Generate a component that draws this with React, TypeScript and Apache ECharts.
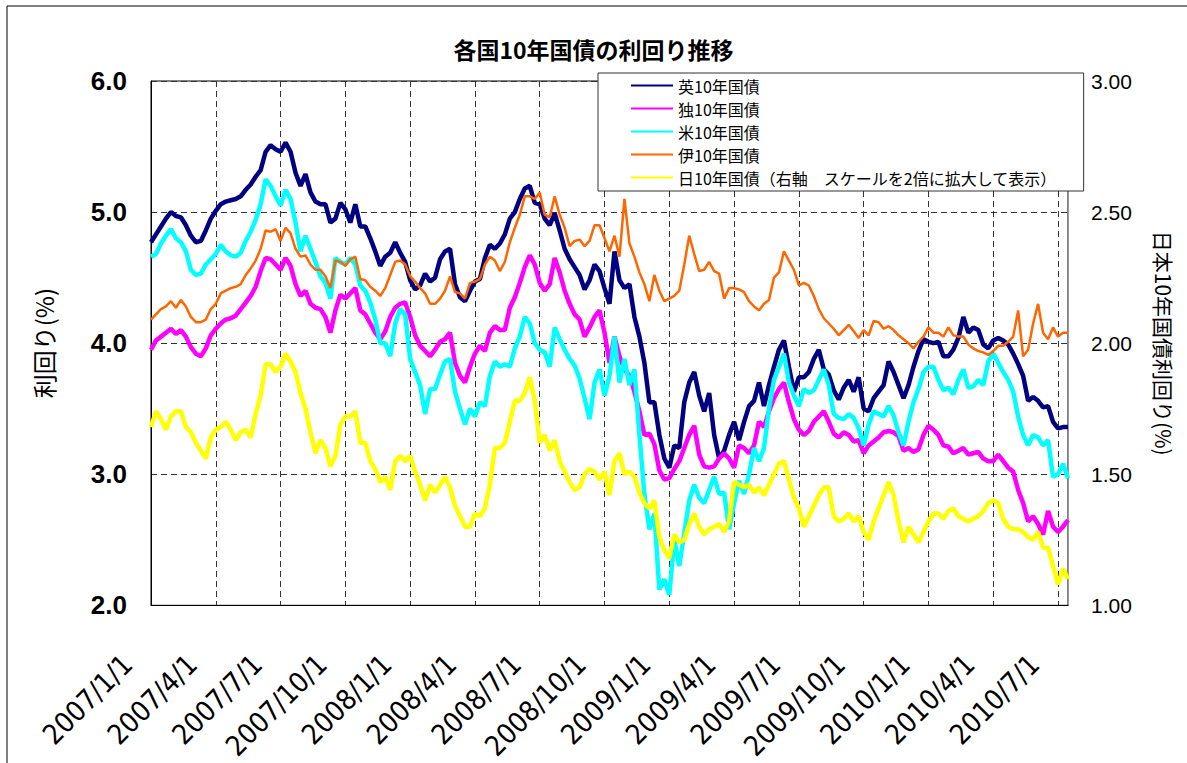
import React, { useEffect, useRef } from "react";
import * as echarts from "echarts";

// Quarter starts used as tick labels (each quarter holds 13 weekly samples)
const quarterLabels = [
  "2007/1/1", "2007/4/1", "2007/7/1", "2007/10/1",
  "2008/1/1", "2008/4/1", "2008/7/1", "2008/10/1",
  "2009/1/1", "2009/4/1", "2009/7/1", "2009/10/1",
  "2010/1/1", "2010/4/1", "2010/7/1",
];
const WEEKS_PER_QUARTER = 13;

const seriesNames = [
  "英10年国債",
  "独10年国債",
  "米10年国債",
  "伊10年国債",
  "日10年国債（右軸　スケールを2倍に拡大して表示）",
];

const ukYield = [
  4.77, 4.83, 4.89, 4.95, 5.00, 4.97, 4.96, 4.90, 4.82, 4.77,
  4.78, 4.86, 4.95, 5.01, 5.06, 5.08, 5.09, 5.10, 5.12, 5.17,
  5.21, 5.27, 5.32, 5.46, 5.51, 5.48, 5.46, 5.53, 5.46, 5.30,
  5.20, 5.29, 5.15, 5.08, 5.06, 5.06, 4.92, 4.95, 5.07, 5.02,
  4.92, 5.06, 4.89, 4.89, 4.80, 4.70, 4.59, 4.66, 4.69, 4.77,
  4.69, 4.62, 4.48, 4.41, 4.44, 4.53, 4.47, 4.50, 4.64, 4.70,
  4.72, 4.45, 4.35, 4.32, 4.40, 4.47, 4.49, 4.65, 4.75, 4.72,
  4.76, 4.83, 4.95, 5.00, 5.10, 5.18, 5.20, 5.07, 5.06, 4.95,
  4.90, 4.99, 4.86, 4.72, 4.64, 4.58, 4.52, 4.41, 4.48, 4.60,
  4.55, 4.42, 4.30, 4.70, 4.48, 4.42, 4.45, 4.20, 4.05, 3.85,
  3.55, 3.55, 3.30, 3.12, 3.05, 3.22, 3.20, 3.55, 3.70, 3.78,
  3.60, 3.48, 3.62, 3.30, 3.12, 3.18, 3.30, 3.40, 3.26, 3.40,
  3.52, 3.56, 3.70, 3.52, 3.68, 3.82, 3.95, 4.02, 3.82, 3.63,
  3.74, 3.74, 3.78, 3.88, 3.95, 3.80, 3.76, 3.64, 3.57, 3.66,
  3.72, 3.63, 3.74, 3.50, 3.48, 3.58, 3.63, 3.68, 3.86, 3.78,
  3.68, 3.58, 3.68, 3.82, 3.94, 4.03, 4.01, 4.00, 4.01, 3.90,
  3.90, 3.95, 4.04, 4.20, 4.08, 4.12, 4.10, 3.99, 3.96, 4.02,
  4.04, 4.02, 3.99, 3.92, 3.84, 3.75, 3.56, 3.59, 3.56, 3.51,
  3.52, 3.40, 3.35, 3.36, 3.36,
];

const deYield = [
  3.95, 4.02, 4.05, 4.08, 4.11, 4.07, 4.10, 4.05, 3.97, 3.92,
  3.90, 3.96, 4.06, 4.11, 4.15, 4.18, 4.19, 4.21, 4.26, 4.31,
  4.36, 4.43, 4.55, 4.65, 4.64, 4.60, 4.56, 4.65, 4.59, 4.45,
  4.36, 4.40, 4.30, 4.27, 4.26, 4.20, 4.08, 4.25, 4.37, 4.34,
  4.38, 4.42, 4.25, 4.22, 4.15, 4.08, 4.03, 4.09, 4.20, 4.27,
  4.30, 4.31, 4.20, 4.06, 3.98, 3.94, 3.90, 3.95, 4.01, 4.03,
  4.08, 3.85, 3.75, 3.70, 3.82, 3.92, 3.98, 3.94, 4.08, 4.13,
  4.10, 4.10, 4.27, 4.35, 4.46, 4.58, 4.67, 4.60, 4.46, 4.40,
  4.45, 4.65, 4.54, 4.40, 4.30, 4.22, 4.18, 4.05, 4.12, 4.20,
  4.25, 4.08, 3.85, 4.05, 3.90, 3.80, 3.75, 3.63, 3.48, 3.30,
  3.31, 3.23, 3.03, 2.96, 2.97, 3.04, 3.10, 3.20, 3.30, 3.37,
  3.15, 3.06, 3.05, 3.06, 3.12, 3.16, 3.12, 3.05, 3.22, 3.20,
  3.16, 3.22, 3.40, 3.36, 3.48, 3.58, 3.65, 3.70, 3.55, 3.42,
  3.34, 3.30, 3.33, 3.40, 3.44, 3.48, 3.40, 3.31, 3.28, 3.32,
  3.30, 3.25, 3.26, 3.16, 3.22, 3.25, 3.28, 3.32, 3.33, 3.32,
  3.29, 3.18, 3.20, 3.17, 3.19, 3.30, 3.37, 3.34, 3.30, 3.22,
  3.21, 3.16, 3.18, 3.20, 3.15, 3.16, 3.17, 3.12, 3.10, 3.10,
  3.15, 3.10, 3.05, 3.02, 2.88, 2.78, 2.64, 2.68, 2.62, 2.54,
  2.72, 2.60, 2.56, 2.60, 2.65,
];

const usYield = [
  4.66, 4.68, 4.76, 4.82, 4.87, 4.80, 4.77, 4.70, 4.56, 4.52,
  4.53, 4.60, 4.64, 4.68, 4.75, 4.70, 4.67, 4.66, 4.69, 4.78,
  4.85, 4.94, 5.06, 5.25, 5.20, 5.12, 5.05, 5.17, 5.10, 4.92,
  4.70, 4.82, 4.72, 4.62, 4.51, 4.46, 4.34, 4.65, 4.62, 4.60,
  4.65, 4.60, 4.44, 4.40, 4.31, 4.18, 4.00, 4.00, 3.90, 4.15,
  4.26, 4.22, 3.88, 3.78, 3.68, 3.46, 3.65, 3.65, 3.76, 3.86,
  3.88, 3.63, 3.50, 3.38, 3.50, 3.44, 3.55, 3.52, 3.75, 3.86,
  3.82, 3.84, 3.82, 3.96, 4.05, 4.20, 4.15, 4.00, 3.95, 3.93,
  3.82, 4.12, 4.03, 3.95, 3.88, 3.83, 3.73, 3.58, 3.42, 3.70,
  3.80, 3.60, 3.75, 4.05, 3.70, 3.88, 3.68, 3.80, 3.30, 2.85,
  2.58, 2.70, 2.12, 2.20, 2.08, 2.50, 2.30, 2.55, 2.80, 2.92,
  2.82, 2.78, 2.88, 2.98, 2.85, 2.86, 2.58, 2.78, 2.95, 2.85,
  3.00, 3.20, 3.10, 3.20, 3.50, 3.72, 3.82, 3.92, 3.70, 3.60,
  3.52, 3.65, 3.62, 3.64, 3.72, 3.80, 3.68, 3.46, 3.43, 3.42,
  3.46, 3.43, 3.35, 3.22, 3.38, 3.48, 3.46, 3.44, 3.52, 3.45,
  3.32, 3.22, 3.40, 3.55, 3.65, 3.78, 3.82, 3.82, 3.72, 3.64,
  3.66, 3.61, 3.72, 3.80, 3.66, 3.67, 3.72, 3.68, 3.86, 3.92,
  3.85, 3.78, 3.72, 3.63, 3.44, 3.30, 3.22, 3.30, 3.28, 3.22,
  3.26, 2.98, 3.00, 3.08, 2.97,
];

const itYield = [
  4.18, 4.22, 4.26, 4.28, 4.32, 4.27, 4.33, 4.28, 4.20, 4.16,
  4.16, 4.18, 4.26, 4.30, 4.38, 4.40, 4.42, 4.43, 4.45, 4.52,
  4.57, 4.63, 4.72, 4.86, 4.85, 4.87, 4.78, 4.88, 4.84, 4.72,
  4.66, 4.67, 4.60, 4.56, 4.56, 4.51, 4.42, 4.63, 4.62, 4.59,
  4.64, 4.66, 4.49, 4.48, 4.43, 4.40, 4.36, 4.42, 4.52, 4.62,
  4.63, 4.60, 4.51, 4.47, 4.42, 4.38, 4.30, 4.30, 4.34, 4.40,
  4.51, 4.39, 4.38, 4.34, 4.46, 4.47, 4.49, 4.60, 4.66, 4.63,
  4.55, 4.62, 4.77, 4.88, 4.98, 5.12, 5.12, 5.10, 5.15, 4.98,
  4.96, 5.12, 4.98, 4.88, 4.74, 4.78, 4.79, 4.74, 4.78, 4.90,
  4.90, 4.80, 4.70, 4.82, 4.66, 5.10, 4.76, 4.66, 4.54, 4.45,
  4.32, 4.52, 4.40, 4.32, 4.34, 4.36, 4.40, 4.60, 4.82, 4.68,
  4.55, 4.56, 4.62, 4.55, 4.53, 4.34, 4.42, 4.42, 4.41, 4.39,
  4.32, 4.28, 4.25, 4.30, 4.33, 4.50, 4.54, 4.70, 4.63, 4.56,
  4.44, 4.46, 4.44, 4.36, 4.26, 4.19, 4.15, 4.11, 4.06, 4.10,
  4.14, 4.09, 4.04, 4.10, 4.06, 4.17, 4.16, 4.11, 4.13, 4.10,
  4.06, 4.03, 4.00, 3.96, 4.01, 4.05, 4.12, 4.08, 4.08, 4.05,
  4.12, 4.06, 4.05, 4.05, 3.99, 3.96, 3.94, 3.93, 3.91, 3.94,
  3.98, 3.98, 4.01, 4.05, 4.25, 3.90, 3.95, 4.15, 4.30, 4.08,
  4.03, 4.12, 4.05, 4.08, 4.08,
];

const jpYield = [
  1.68, 1.74, 1.71, 1.67, 1.72, 1.74, 1.74, 1.68, 1.66, 1.62,
  1.59, 1.56, 1.64, 1.67, 1.68, 1.70, 1.67, 1.63, 1.66, 1.67,
  1.64, 1.73, 1.80, 1.92, 1.92, 1.89, 1.91, 1.96, 1.93, 1.89,
  1.81, 1.75, 1.66, 1.58, 1.63, 1.60, 1.53, 1.57, 1.69, 1.72,
  1.72, 1.74, 1.62, 1.62, 1.55, 1.52, 1.47, 1.49, 1.44, 1.55,
  1.57, 1.55, 1.57, 1.51, 1.46, 1.40, 1.46, 1.43, 1.46, 1.49,
  1.45, 1.38, 1.34, 1.30, 1.30, 1.35, 1.34, 1.37, 1.46, 1.60,
  1.60, 1.62, 1.70, 1.78, 1.78, 1.81, 1.87, 1.78, 1.62, 1.65,
  1.59, 1.63, 1.55, 1.51, 1.47, 1.44, 1.45, 1.50, 1.52, 1.51,
  1.48, 1.51, 1.42, 1.55, 1.58, 1.50, 1.51, 1.49, 1.43, 1.39,
  1.37, 1.40, 1.26, 1.21, 1.18, 1.27, 1.24, 1.25, 1.31, 1.35,
  1.30, 1.27, 1.29, 1.30, 1.31, 1.28, 1.32, 1.47, 1.46, 1.45,
  1.46, 1.43, 1.45, 1.42, 1.46, 1.50, 1.54, 1.55, 1.48, 1.41,
  1.37, 1.30, 1.34, 1.38, 1.42, 1.45, 1.45, 1.34, 1.32, 1.33,
  1.35, 1.32, 1.34, 1.28, 1.25, 1.32, 1.37, 1.42, 1.47, 1.42,
  1.32, 1.24, 1.30, 1.27, 1.24, 1.28, 1.32, 1.35, 1.35, 1.33,
  1.36, 1.37, 1.34, 1.33, 1.32, 1.33, 1.34, 1.36, 1.39, 1.40,
  1.39, 1.33, 1.30, 1.29, 1.29, 1.28, 1.26, 1.25, 1.28, 1.22,
  1.22, 1.15, 1.08, 1.14, 1.10,
];

const seriesColors = ["#000080", "#FF00FF", "#00FFFF", "#FF6600", "#FFFF00"];
const seriesWidths = [4.5, 4.5, 4.5, 2.5, 4.5];

// weekly category labels: quarter start, then +7 days each
function buildCategories(count: number): string[] {
  const out: string[] = [];
  for (const q of quarterLabels) {
    const [y, m, d] = q.split("/").map(Number);
    for (let w = 0; w < WEEKS_PER_QUARTER; w++) {
      const dt = new Date(y, m - 1, d + 7 * w);
      out.push(`${dt.getFullYear()}/${dt.getMonth() + 1}/${dt.getDate()}`);
      if (out.length >= count) return out;
    }
  }
  return out;
}

const JP_FONT = '"Noto Sans CJK JP", "Noto Sans CJK SC", sans-serif';
const NUM_FONT = '"Liberation Sans", Arial, sans-serif';
const XLABEL_FONT = '"DejaVu Sans Condensed", "Liberation Sans", sans-serif';

export default function App() {
  const ref = useRef<HTMLDivElement>(null);

  useEffect(() => {
    document.body.style.margin = "0";
    if (!ref.current) return;
    const chart = echarts.init(ref.current, undefined, { renderer: "svg" });
    const categories = buildCategories(ukYield.length);
    const isQuarter = (index: number) => index % WEEKS_PER_QUARTER === 0;
    const gridDash = { color: "#333", type: [6, 4] as any, width: 1 };

    const values = [ukYield, deYield, usYield, itYield, jpYield];

    chart.setOption({
      animation: false,
      backgroundColor: "#ffffff",
      title: {
        text: "各国10年国債の利回り推移",
        left: "center",
        top: 32,
        textStyle: { fontFamily: JP_FONT, fontSize: 23, fontWeight: "bold", color: "#000" },
      },
      legend: {
        orient: "vertical",
        left: 598,
        top: 73,
        backgroundColor: "#ffffff",
        borderColor: "#333",
        borderWidth: 1,
        borderRadius: 0,
        padding: [4, 27, 5, 32],
        itemWidth: 42,
        itemHeight: 14,
        itemGap: 6,
        itemStyle: { opacity: 0 },
        textStyle: { fontFamily: JP_FONT, fontSize: 16, color: "#000", lineHeight: 17 },
        data: seriesNames,
      },
      grid: {
        left: 151,
        top: 81,
        width: 917,
        height: 525,
        show: true,
        borderColor: "#000",
        borderWidth: 1,
      },
      xAxis: {
        type: "category",
        data: categories,
        boundaryGap: false,
        axisLine: { lineStyle: { color: "#000", width: 1 } },
        axisTick: { show: false },
        axisLabel: {
          interval: (index: number) => isQuarter(index),
          rotate: 45,
          margin: 31,
          padding: [0, 33, 0, 0],
          fontSize: 28,
          fontFamily: XLABEL_FONT,
          color: "#000",
        },
        splitLine: { show: true, interval: (index: number) => isQuarter(index), lineStyle: gridDash },
      },
      yAxis: [
        {
          type: "value",
          min: 2,
          max: 6,
          interval: 1,
          position: "left",
          axisLine: { show: true, lineStyle: { color: "#000" } },
          axisTick: { show: false },
          axisLabel: {
            formatter: (v: number) => v.toFixed(1),
            fontSize: 26,
            fontWeight: "bold",
            fontFamily: NUM_FONT,
            color: "#000",
            margin: 24,
          },
          splitLine: { show: true, lineStyle: gridDash },
          name: "利回り(%)",
          nameLocation: "middle",
          nameGap: 96,
          nameTextStyle: { fontFamily: JP_FONT, fontSize: 24, color: "#000" },
        },
        {
          type: "value",
          min: 1,
          max: 3,
          interval: 0.5,
          position: "right",
          axisLine: { show: true, lineStyle: { color: "#999" } },
          axisTick: { show: false },
          axisLabel: {
            formatter: (v: number) => v.toFixed(2),
            fontSize: 21,
            fontFamily: NUM_FONT,
            color: "#000",
            margin: 23,
          },
          splitLine: { show: false },
          name: "日本10年国債利回り(%)",
          nameLocation: "middle",
          nameRotate: -90,
          nameGap: 86,
          nameTextStyle: { fontFamily: JP_FONT, fontSize: 21, color: "#000" },
        },
      ],
      series: seriesNames.map((name, i) => ({
        name,
        type: "line",
        data: values[i],
        yAxisIndex: i === 4 ? 1 : 0,
        symbol: "none",
        showSymbol: false,
        color: seriesColors[i],
        lineStyle: { color: seriesColors[i], width: seriesWidths[i] },
        z: 2 + i,
      })),
      graphic: [
        {
          type: "rect",
          silent: true,
          z: 100,
          shape: { x: 7, y: 6, width: 1200, height: 800 },
          style: { fill: "none", stroke: "#000", lineWidth: 1 },
        },
      ],
    });

    return () => chart.dispose();
  }, []);

  return <div ref={ref} style={{ width: 1187, height: 763 }} />;
}
